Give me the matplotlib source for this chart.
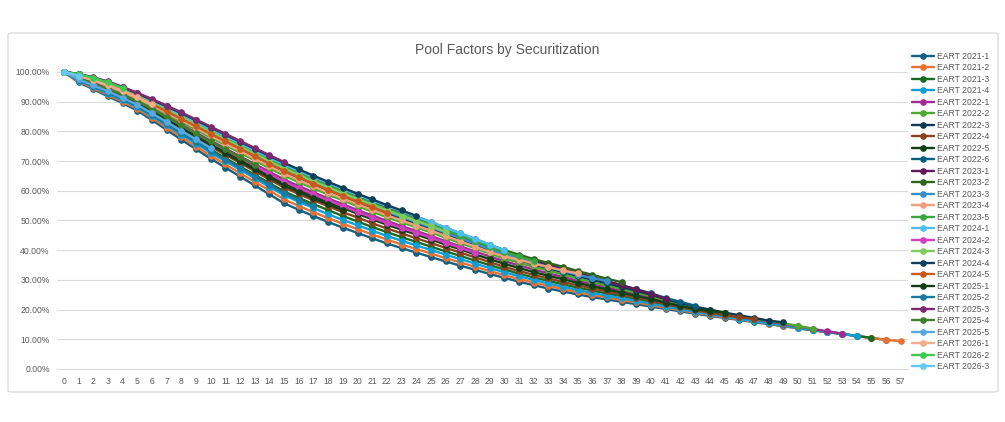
import matplotlib
matplotlib.use("Agg")
import matplotlib.pyplot as plt
from matplotlib.patches import FancyBboxPatch
from matplotlib.ticker import PercentFormatter, MultipleLocator

# pool factor (%) by month since closing
eart_2021_1 = [100, 96.5, 94.2, 91.8, 89.5, 87.0, 83.8, 80.5, 77.2, 74.0, 70.8, 67.8, 64.8, 61.8, 58.8,
               55.8, 53.6, 51.5, 49.5, 47.6, 45.8, 44.0, 42.3, 40.7, 39.2, 37.7, 36.2, 34.8, 33.4, 32.0,
               30.7, 29.4, 28.2, 27.1, 26.1, 25.1, 24.2, 23.4, 22.6, 21.8, 21.0, 20.2, 19.4, 18.6, 17.9,
               17.2, 16.5, 15.8, 15.1, 14.4, 13.7, 13.0, 12.4, 11.8, 11.1, 10.5, 9.8]
eart_2021_2 = [100, 96.8, 94.6, 92.3, 90.0, 87.6, 84.5, 81.3, 78.1, 74.9, 71.8, 68.9, 65.9, 63.0, 60.1,
               57.1, 54.9, 52.8, 50.8, 48.9, 47.1, 45.3, 43.6, 41.9, 40.4, 38.9, 37.3, 35.9, 34.4, 33.0,
               31.6, 30.3, 29.1, 28.0, 26.9, 25.9, 24.9, 24.1, 23.2, 22.4, 21.5, 20.6, 19.8, 18.9, 18.2,
               17.4, 16.7, 16.0, 15.3, 14.5, 13.8, 13.1, 12.4, 11.8, 11.1, 10.5, 9.8, 9.4]
eart_2021_3 = [100, 97.3, 95.3, 93.2, 91.0, 88.7, 85.8, 82.8, 79.8, 76.8, 73.9, 71.0, 68.2, 65.4, 62.6,
               59.8, 57.6, 55.5, 53.5, 51.5, 49.7, 47.8, 46.1, 44.4, 42.8, 41.2, 39.6, 38.1, 36.5, 35.0,
               33.5, 32.1, 30.8, 29.7, 28.5, 27.4, 26.4, 25.4, 24.5, 23.5, 22.5, 21.4, 20.5, 19.5, 18.7,
               17.9, 17.1, 16.3, 15.6, 14.8, 14.0, 13.2, 12.6, 11.9, 11.1, 10.5]
eart_2021_4 = [100, 97.1, 95.0, 92.7, 90.5, 88.1, 85.1, 82.0, 78.9, 75.9, 72.8, 70.0, 67.1, 64.2, 61.3,
               58.5, 56.3, 54.2, 52.1, 50.2, 48.4, 46.6, 44.8, 43.2, 41.6, 40.1, 38.5, 37.0, 35.5, 34.0,
               32.6, 31.2, 30.0, 28.8, 27.7, 26.6, 25.6, 24.7, 23.8, 22.9, 22.0, 21.0, 20.1, 19.2, 18.4,
               17.7, 16.9, 16.1, 15.4, 14.7, 13.9, 13.2, 12.5, 11.8, 11.1]
eart_2022_1 = [100, 98.2, 96.5, 94.6, 92.6, 90.4, 87.8, 85.1, 82.4, 79.6, 76.9, 74.3, 71.6, 69.0, 66.4,
               63.8, 61.6, 59.5, 57.4, 55.5, 53.5, 51.7, 49.9, 48.1, 46.5, 44.8, 43.0, 41.3, 39.6, 37.9,
               36.3, 34.9, 33.5, 32.2, 31.0, 29.7, 28.5, 27.4, 26.3, 25.2, 24.0, 22.7, 21.5, 20.4, 19.5,
               18.6, 17.7, 16.8, 16.0, 15.2, 14.4, 13.5, 12.7, 11.9]
eart_2022_2 = [100, 98.5, 96.9, 95.1, 93.1, 90.9, 88.4, 85.8, 83.2, 80.6, 77.9, 75.4, 72.8, 70.2, 67.6,
               65.1, 62.9, 60.8, 58.7, 56.8, 54.8, 53.0, 51.1, 49.4, 47.7, 46.0, 44.2, 42.4, 40.7, 38.9,
               37.2, 35.8, 34.4, 33.1, 31.8, 30.5, 29.2, 28.1, 26.9, 25.7, 24.5, 23.1, 21.9, 20.7, 19.7,
               18.8, 17.9, 17.0, 16.2, 15.4, 14.5, 13.6]
eart_2022_3 = [100, 98.7, 97.2, 95.6, 93.6, 91.5, 89.1, 86.6, 84.1, 81.5, 79.0, 76.4, 73.9, 71.4, 68.9,
               66.4, 64.2, 62.1, 60.1, 58.1, 56.1, 54.2, 52.4, 50.6, 48.9, 47.1, 45.3, 43.5, 41.7, 39.9,
               38.1, 36.7, 35.2, 33.9, 32.6, 31.3, 30.0, 28.8, 27.6, 26.3, 25.0, 23.5, 22.2, 21.0, 20.0,
               19.0, 18.1, 17.2, 16.3, 15.7]
eart_2022_4 = [100, 97.6, 95.7, 93.7, 91.5, 89.2, 86.4, 83.5, 80.6, 77.8, 74.9, 72.1, 69.4, 66.6, 63.8,
               61.1, 58.9, 56.8, 54.8, 52.8, 51.0, 49.1, 47.3, 45.7, 44.0, 42.4, 40.8, 39.2, 37.6, 36.0,
               34.4, 33.0, 31.7, 30.5, 29.3, 28.2, 27.1, 26.1, 25.1, 24.0, 23.0, 21.8, 20.8, 19.8, 18.9,
               18.1, 17.4, 16.9]
eart_2022_5 = [100, 97.9, 96.1, 94.2, 92.1, 89.8, 87.1, 84.3, 81.5, 78.7, 75.9, 73.2, 70.5, 67.8, 65.1,
               62.5, 60.3, 58.2, 56.1, 54.2, 52.3, 50.4, 48.6, 46.9, 45.3, 43.6, 41.9, 40.3, 38.6, 37.0,
               35.4, 34.0, 32.6, 31.4, 30.2, 29.0, 27.8, 26.8, 25.7, 24.6, 23.5, 22.3, 21.2, 20.2, 19.5,
               19.0]
eart_2022_6 = [100, 99.0, 97.6, 96.0, 94.1, 92.0, 89.7, 87.3, 84.9, 82.5, 80.0, 77.5, 75.1, 72.6, 70.1,
               67.8, 65.6, 63.5, 61.4, 59.4, 57.4, 55.5, 53.6, 51.9, 50.1, 48.3, 46.5, 44.6, 42.8, 40.9,
               39.1, 37.6, 36.1, 34.8, 33.4, 32.0, 30.7, 29.4, 28.2, 26.8, 25.5, 23.9, 22.6, 21.3]
eart_2023_1 = [100, 99.2, 97.8, 96.3, 94.3, 92.3, 90.1, 87.7, 85.4, 82.9, 80.5, 78.1, 75.6, 73.2, 70.8,
               68.4, 66.2, 64.1, 62.0, 60.0, 58.1, 56.2, 54.3, 52.5, 50.7, 48.9, 47.0, 45.2, 43.3, 41.4,
               39.5, 38.1, 36.6, 35.2, 33.8, 32.4, 31.0, 29.6, 28.2, 26.8, 25.3, 23.7]
eart_2023_2 = [100, 99.3, 98.0, 96.5, 94.6, 92.6, 90.4, 88.1, 85.8, 83.4, 81.0, 78.6, 76.2, 73.8, 71.4,
               69.1, 66.9, 64.8, 62.7, 60.7, 58.7, 56.8, 54.9, 53.1, 51.3, 49.5, 47.6, 45.7, 43.8, 41.9,
               40.0, 38.5, 37.0, 35.7, 34.4, 33.0, 31.7, 30.4, 29.2]
eart_2023_3 = [100, 98.9, 97.4, 95.8, 93.8, 91.8, 89.4, 87.0, 84.5, 82.0, 79.5, 77.0, 74.5, 72.0, 69.5,
               67.1, 64.9, 62.8, 60.7, 58.7, 56.8, 54.9, 53.0, 51.2, 49.5, 47.7, 45.9, 44.1, 42.2, 40.4,
               38.6, 37.1, 35.7, 34.3, 33.0, 31.7, 30.6, 29.7]
eart_2023_4 = [100, 98.6, 97.1, 95.3, 93.3, 91.2, 88.8, 86.2, 83.7, 81.1, 78.5, 75.9, 73.4, 70.8, 68.3,
               65.8, 63.6, 61.5, 59.4, 57.4, 55.5, 53.6, 51.8, 50.0, 48.3, 46.6, 44.8, 43.0, 41.2, 39.4,
               37.9, 36.8, 35.5, 34.3, 33.2, 32.2]
eart_2023_5 = [100, 99.1, 97.8, 96.2, 94.3, 92.2, 90.0, 87.6, 85.2, 82.8, 80.3, 77.8, 75.4, 72.9, 70.4,
               68.1, 65.9, 63.8, 61.7, 59.7, 57.7, 55.8, 53.9, 52.2, 50.4, 48.6, 46.8, 44.9, 43.1, 41.2,
               39.4, 37.9, 36.4]
eart_2024_1 = [100, 99.2, 97.9, 96.3, 94.4, 92.4, 90.2, 87.9, 85.6, 83.2, 80.8, 78.4, 76.0, 73.6, 71.2,
               68.9, 66.7, 64.6, 62.6, 60.6, 58.6, 56.7, 54.9, 53.1, 51.3, 49.5, 47.6, 45.7, 43.8, 41.9,
               40.0]
eart_2024_2 = [100, 98.0, 96.3, 94.4, 92.3, 90.1, 87.4, 84.7, 81.9, 79.2, 76.4, 73.7, 71.1, 68.4, 65.7,
               63.1, 60.9, 58.8, 56.8, 54.8, 52.9, 51.0, 49.2, 47.5, 45.9, 44.2, 42.5, 40.8, 39.1]
eart_2024_3 = [100, 99.0, 97.5, 95.9, 94.0, 91.9, 89.6, 87.2, 84.8, 82.3, 79.8, 77.3, 74.8, 72.4, 69.9,
               67.5, 65.3, 63.2, 61.1, 59.1, 57.2, 55.3, 53.4, 51.6, 49.9, 48.1, 46.2]
eart_2024_4 = [100, 99.3, 98.1, 96.7, 94.8, 92.8, 90.6, 88.4, 86.1, 83.7, 81.3, 78.9, 76.5, 74.1, 71.7,
               69.4, 67.2, 65.1, 63.0, 61.0, 59.0, 57.1, 55.2, 53.4, 51.6]
eart_2024_5 = [100, 98.8, 97.3, 95.7, 93.6, 91.6, 89.2, 86.7, 84.2, 81.7, 79.2, 76.7, 74.2, 71.7, 69.1,
               66.7, 64.5, 62.4, 60.3, 58.3, 56.4, 54.5, 52.6]
eart_2025_1 = [100, 97.8, 95.9, 93.9, 91.8, 89.5, 86.8, 83.9, 81.1, 78.2, 75.4, 72.7, 69.9, 67.2, 64.5,
               61.8, 59.6, 57.5, 55.4, 53.5]
eart_2025_2 = [100, 97.2, 95.2, 93.0, 90.8, 88.4, 85.5, 82.4, 79.4, 76.4, 73.4, 70.5, 67.7, 64.8, 62.0,
               59.1, 56.9, 54.8]
eart_2025_3 = [100, 99.4, 98.2, 96.8, 95.0, 93.0, 90.9, 88.7, 86.4, 84.0, 81.6, 79.2, 76.8, 74.4, 72.0,
               69.7]
eart_2025_4 = [100, 98.0, 96.2, 94.3, 92.3, 90.1, 87.5, 84.8, 82.1, 79.3, 76.6, 74.0, 71.3, 68.7]
eart_2025_5 = [100, 97.5, 95.5, 93.5, 91.3, 89.0, 86.1, 83.2, 80.2, 77.3, 74.4]
eart_2026_1 = [100, 98.7, 97.2, 95.6, 93.6, 91.5, 89.1]
eart_2026_2 = [100, 99.3, 98.0, 96.5, 94.6]
eart_2026_3 = [100, 98.8]

deal_names = ["EART 2021-1", "EART 2021-2", "EART 2021-3", "EART 2021-4",
              "EART 2022-1", "EART 2022-2", "EART 2022-3", "EART 2022-4", "EART 2022-5", "EART 2022-6",
              "EART 2023-1", "EART 2023-2", "EART 2023-3", "EART 2023-4", "EART 2023-5",
              "EART 2024-1", "EART 2024-2", "EART 2024-3", "EART 2024-4", "EART 2024-5",
              "EART 2025-1", "EART 2025-2", "EART 2025-3", "EART 2025-4", "EART 2025-5",
              "EART 2026-1", "EART 2026-2", "EART 2026-3"]
deal_factors = [eart_2021_1, eart_2021_2, eart_2021_3, eart_2021_4,
                eart_2022_1, eart_2022_2, eart_2022_3, eart_2022_4, eart_2022_5, eart_2022_6,
                eart_2023_1, eart_2023_2, eart_2023_3, eart_2023_4, eart_2023_5,
                eart_2024_1, eart_2024_2, eart_2024_3, eart_2024_4, eart_2024_5,
                eart_2025_1, eart_2025_2, eart_2025_3, eart_2025_4, eart_2025_5,
                eart_2026_1, eart_2026_2, eart_2026_3]
month_ticks = list(range(0, 58))

# office-style palette
colors = ["#156082", "#E97132", "#196B24", "#0F9ED5", "#A02B93", "#4EA72E",
          "#0D3A4E", "#8B431E", "#0F4016", "#095F80", "#601A58", "#2F641C",
          "#3A8FC9", "#F1A17A", "#3AA63F", "#4DBFEF", "#D13FC0", "#7FCB5E",
          "#12405A", "#C85A1E", "#133D17", "#1A7AA0", "#7D2A73", "#3F7E2A",
          "#58A9E0", "#F3AD8C", "#3CCB4E", "#66C8F4"]

plt.rcParams["font.family"] = ["Liberation Sans", "DejaVu Sans"]
txt_gray = "#595959"
grid_gray = "#D9D9D9"

fig = plt.figure(figsize=(10.05, 4.22), dpi=100)
ax = fig.add_axes([0.0563, 0.1256, 0.8472, 0.7038])

# chart frame
frame = FancyBboxPatch((8 / 1005, 1 - 392 / 422), 990 / 1005, 359 / 422,
                       boxstyle="round,pad=0,rounding_size=0.004", transform=fig.transFigure,
                       facecolor="none", edgecolor=grid_gray, linewidth=0.9, zorder=0)
fig.patches.append(frame)

handles = []
for name, vals, c in zip(deal_names, deal_factors, colors):
    x = list(range(len(vals)))
    h, = ax.plot(x, vals, color=c, lw=1.7, marker="o", ms=3.8, mec=c, mfc=c,
                 label=name, clip_on=False, solid_capstyle="round")
    handles.append(h)

ax.set_xlim(-0.5, 57.5)
ax.set_ylim(0, 100)
ax.set_xticks(month_ticks)
ax.yaxis.set_major_locator(MultipleLocator(10))
ax.yaxis.set_major_formatter(PercentFormatter(xmax=100, decimals=2))
ax.grid(axis="y", color=grid_gray, lw=0.8)
ax.set_axisbelow(True)
for s in ["top", "right", "left"]:
    ax.spines[s].set_visible(False)
ax.spines["bottom"].set_color(grid_gray)
ax.spines["bottom"].set_linewidth(0.8)
ax.tick_params(axis="y", length=0, labelsize=6.2, labelcolor=txt_gray, pad=5)
ax.tick_params(axis="x", length=0, labelsize=6.2, labelcolor=txt_gray, pad=6)

fig.text(0.505, 1 - 50 / 422, "Pool Factors by Securitization", ha="center", va="center",
         fontsize=10, color=txt_gray)

leg = fig.legend(handles=handles, loc="upper left", bbox_to_anchor=(912 / 1005, 1 - 52 / 422),
                 frameon=False, fontsize=6.2, handlelength=2.6, handletextpad=0.25,
                 labelspacing=0.29, borderpad=0, borderaxespad=0)
for t in leg.get_texts():
    t.set_color(txt_gray)

fig.savefig("out.png", dpi=100)
